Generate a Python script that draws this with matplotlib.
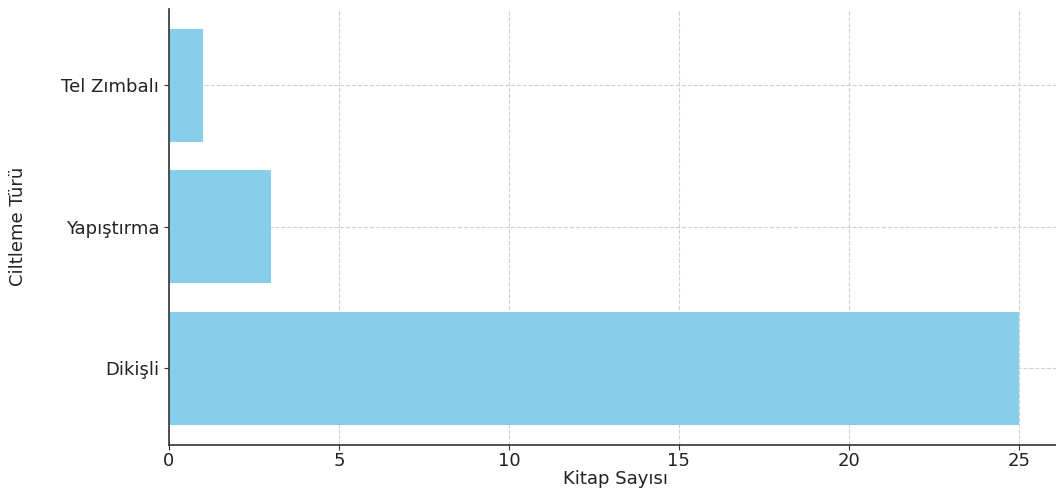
import matplotlib
matplotlib.use("Agg")
import matplotlib.pyplot as plt

categories = ["Dikişli", "Yapıştırma", "Tel Zımbalı"]
values = [25, 3, 1]
xticks = [0, 5, 10, 15, 20, 25]

plt.rcParams['font.family'] = ['DejaVu Sans']
fig = plt.figure(figsize=(10.56, 4.91), dpi=100)
ax = fig.add_axes([0.16, 0.094, 0.845, 0.888])
ax.barh(categories, values, color="skyblue", height=0.8, zorder=2)
ax.set_xticks(xticks)
ax.set_xlim(0, 26.25)
ax.grid(True, linestyle="--", color="#d0d0d0", linewidth=0.8, zorder=0)
ax.set_axisbelow(True)
ax.spines["top"].set_visible(False)
ax.spines["right"].set_visible(False)
ax.spines["left"].set_linewidth(1.2)
ax.spines["bottom"].set_linewidth(1.2)
ax.spines["left"].set_color("#333333")
ax.spines["bottom"].set_color("#333333")
ax.tick_params(axis="both", labelsize=13, colors="#333333", labelcolor="#222222")
ax.tick_params(axis="x", pad=2)
ax.set_xlabel("Kitap Sayısı", fontsize=13, color="#222222", labelpad=0)
ax.set_ylabel("Ciltleme Türü", fontsize=13, color="#222222")
ax.yaxis.set_label_coords(-0.159, 0.5)
fig.savefig("out.png", dpi=100)
